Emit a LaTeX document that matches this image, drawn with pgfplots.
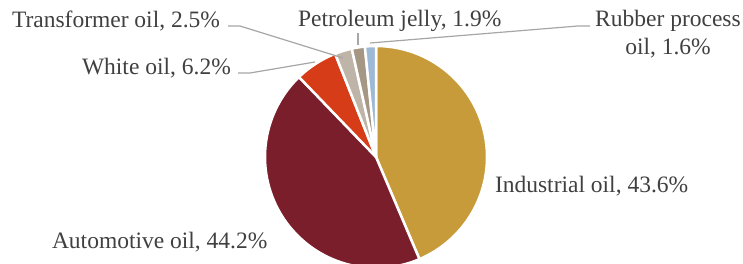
\documentclass[border=0pt]{standalone}
\usepackage{pgfplots}
\pgfplotsset{compat=1.18}
\usepackage{pgfplotstable}
\usepackage{fontspec}
\setmainfont{Liberation Serif}
\definecolor{cInd}{HTML}{C89B3A}
\definecolor{cAuto}{HTML}{7B1E2B}
\definecolor{cWhite}{HTML}{D63C17}
\definecolor{cTrans}{HTML}{BEB5A8}
\definecolor{cPet}{HTML}{A69684}
\definecolor{cRub}{HTML}{9DB9D5}
\definecolor{txtGray}{HTML}{404040}
\definecolor{lineGray}{HTML}{A6A6A6}
\tikzset{lbl/.style={text=txtGray, font=\fontsize{23.5bp}{28bp}\selectfont, inner sep=0pt, outer sep=0pt}}
\pgfplotstableread{
label value color
Industrial 43.6 cInd
Automotive 44.2 cAuto
White 6.2 cWhite
Transformer 2.5 cTrans
Petroleum 1.9 cPet
Rubber 1.6 cRub
}\piedata
\begin{document}
\begin{tikzpicture}
\begin{axis}[scale only axis, width=743bp, height=264bp,
  xmin=0, xmax=743, ymin=0, ymax=264, hide axis]
\gdef\cum{0}
\pgfplotsforeachungrouped \i in {0,...,5}{%
  \pgfplotstablegetelem{\i}{value}\of\piedata \let\val\pgfplotsretval
  \pgfplotstablegetelem{\i}{color}\of\piedata \let\col\pgfplotsretval
  \pgfmathsetmacro\angA{90-3.6*\cum}%
  \pgfmathsetmacro\angB{90-3.6*(\cum+\val)}%
  \pgfmathsetmacro\newcum{\cum+\val}\xdef\cum{\newcum}%
  \edef\doslice{\noexpand\addplot[fill=\col, draw=white, line width=2.5bp, line join=round, domain=\angB:\angA, samples=90] ({376+111*cos(x)},{107+111*sin(x)}) -- (axis cs:376,107) -- cycle;}%
  \doslice
}
\addplot[color=lineGray, line width=1.2bp] coordinates {(228,238) (240,238) (343,206)};
\addplot[color=lineGray, line width=1.2bp] coordinates {(238,191) (250,191) (315,202)};
\addplot[color=lineGray, line width=1.2bp] coordinates {(358,231) (358,219)};
\addplot[color=lineGray, line width=1.2bp] coordinates {(590,238) (578,238) (370,221)};
\node[lbl, anchor=base west] at (axis cs:12,236) {Transformer oil, 2.5\%};
\node[lbl, anchor=base west] at (axis cs:82,189) {White oil, 6.2\%};
\node[lbl, anchor=base west] at (axis cs:298,237) {Petroleum jelly, 1.9\%};
\node[lbl, anchor=base] at (axis cs:668,237) {Rubber process};
\node[lbl, anchor=base] at (axis cs:668,209) {oil, 1.6\%};
\node[lbl, anchor=base west] at (axis cs:52,15) {Automotive oil, 44.2\%};
\node[lbl, anchor=base west] at (axis cs:495,71) {Industrial oil, 43.6\%};
\end{axis}
\pgfresetboundingbox
\useasboundingbox (current axis.south west) rectangle (current axis.north east);
\end{tikzpicture}
\end{document}
